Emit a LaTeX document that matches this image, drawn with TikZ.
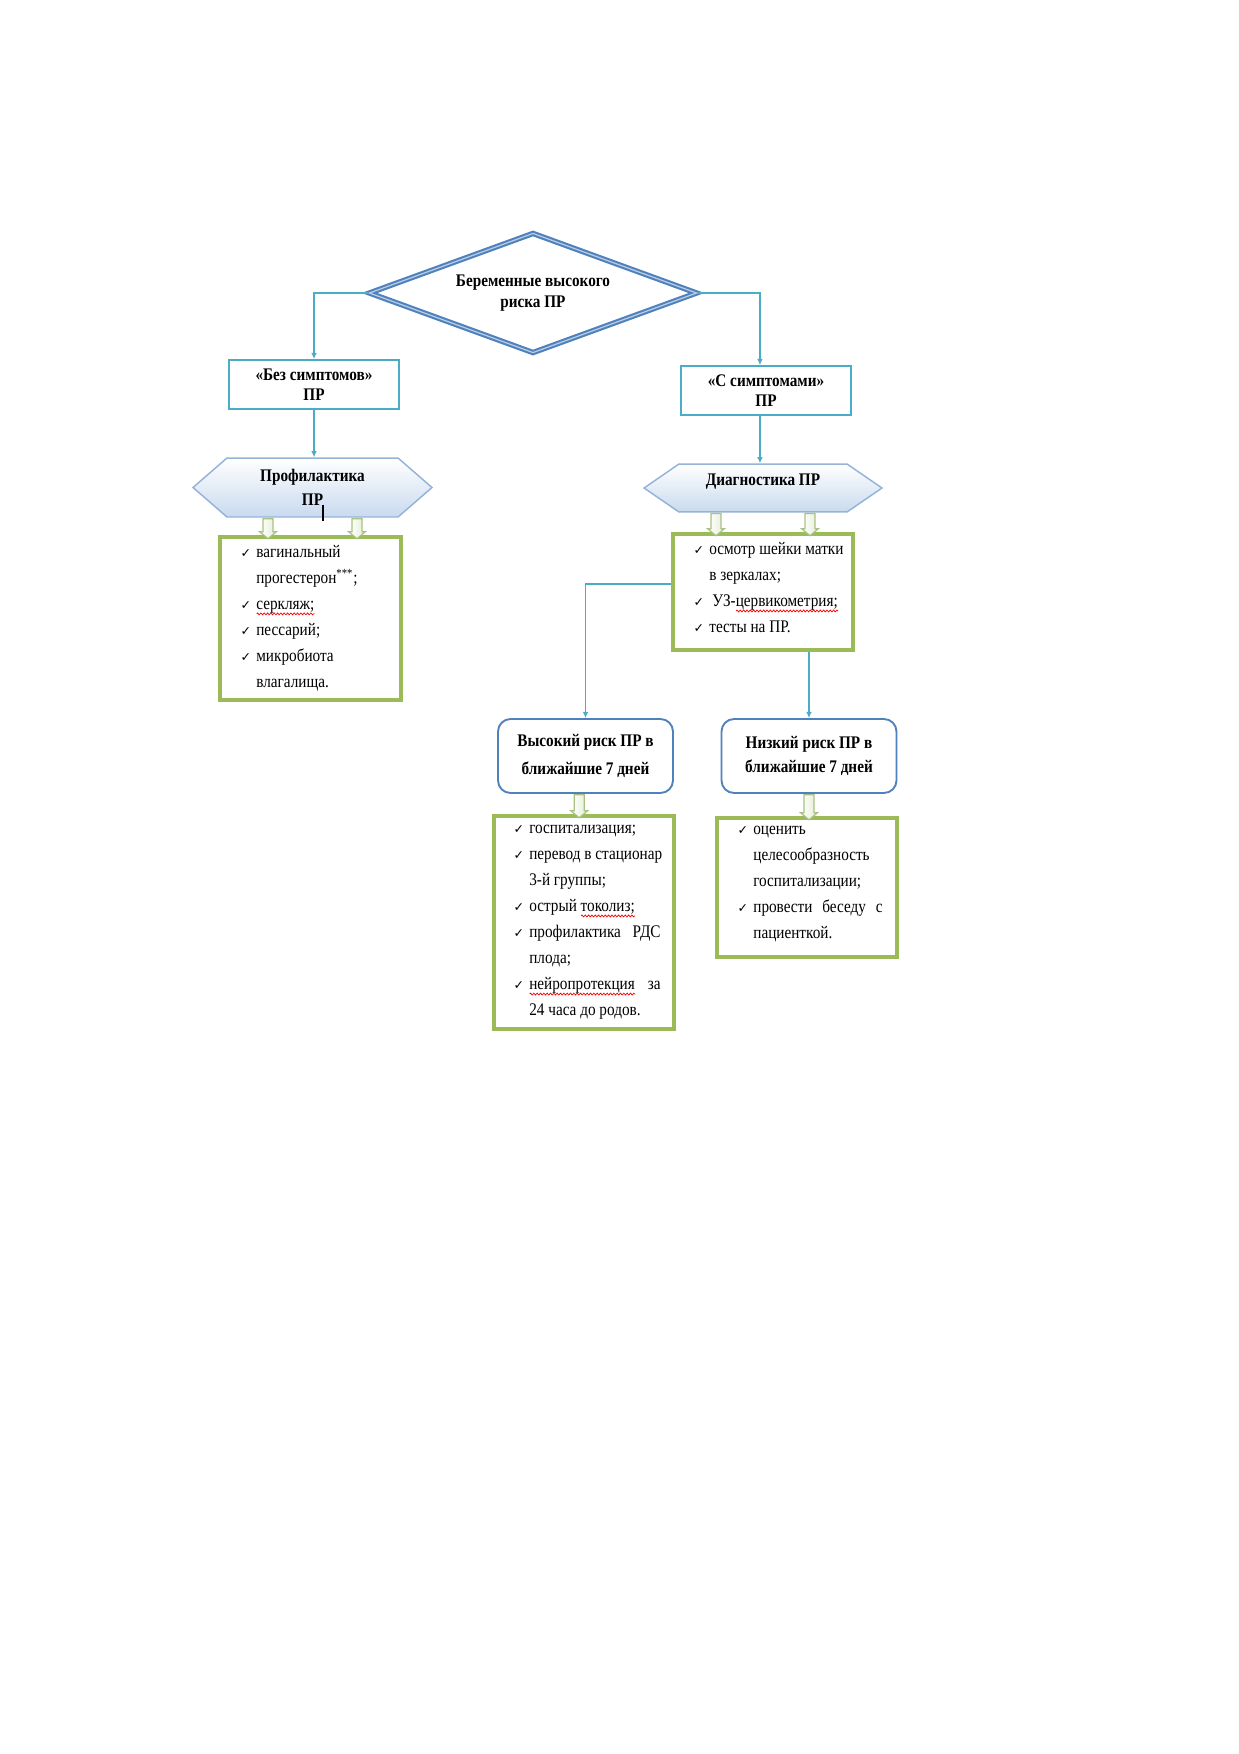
\documentclass[tikz,border=0pt]{standalone}
\usepackage{fontspec}
\setmainfont[FakeStretch=0.86]{Liberation Serif}
\newfontfamily\symf{DejaVu Sans}
\usetikzlibrary{shapes.geometric,shapes.symbols,shapes.arrows,arrows.meta,calc,decorations.pathmorphing}
\definecolor{tealc}{HTML}{4BACC6}
\definecolor{blued}{HTML}{4F81BD}
\definecolor{bluel}{HTML}{B8CCE4}
\definecolor{hexd}{HTML}{95B3D7}
\definecolor{hexf}{HTML}{C9DAEF}
\definecolor{greenc}{HTML}{9BBB59}
\definecolor{arrd}{HTML}{A9C283}
\definecolor{arrf}{HTML}{E6EED6}
\newlength\ckw \setlength\ckw{7.5pt}
\newcommand\ck{\makebox[\ckw][l]{\symf\fontsize{6}{6}\selectfont ✓}}
\newcommand\ind{\hspace*{\ckw}}
\newcommand\jl[2][63pt]{\makebox[#1][s]{#2}}
\newsavebox\sqbox
\newlength\sqlen
\newcommand\sq[1]{\sbox\sqbox{#1}\setlength\sqlen{\wd\sqbox}\rlap{\tikz[baseline=0pt]\draw[red,line width=0.35pt,decorate,decoration={zigzag,segment length=1.6pt,amplitude=0.45pt}] (0pt,-2pt) -- (\sqlen,-2pt);}\usebox\sqbox}
\begin{document}
\begin{tikzpicture}[x=0.48pt,y=-0.48pt,
  conn/.style={draw=tealc, line width=0.6pt, -{Latex[length=3pt,width=2.8pt]}},
  tbox/.style={rectangle, draw=tealc, line width=0.9pt, fill=white, minimum width=81.6pt, minimum height=23.5pt, inner sep=1pt, align=center, font=\bfseries\fontsize{8.5}{9.5}\selectfont},
  diam/.style={diamond, draw=blued, double=bluel, double distance=0.6pt, line width=1pt, aspect=2.73, minimum width=157.4pt, minimum height=57.6pt, inner sep=0pt, align=center, font=\bfseries\fontsize{8.5}{9.8}\selectfont},
  hexs/.style={signal, signal to=west and east, draw=hexd, line width=0.7pt, top color=white, bottom color=hexf, inner sep=0pt, align=center, font=\bfseries\fontsize{8.5}{11.8}\selectfont},
  rbox/.style={rectangle, rounded corners=6pt, draw=blued, line width=0.9pt, fill=white, minimum width=84pt, minimum height=35.5pt, inner sep=1pt, align=center, font=\bfseries\fontsize{8.5}{13.2}\selectfont},
  gbox/.style={rectangle, draw=greenc, line width=1.5pt, fill=white},
  gtext/.style={anchor=west, align=left, inner sep=0pt, font=\fontsize{8.5}{12.5}\selectfont},
  blk/.style={single arrow, shape border rotate=270, draw=arrd, left color=white, right color=arrf, line width=0.6pt, inner sep=2.1pt, minimum width=7.6pt, single arrow head extend=1.6pt, single arrow tip angle=100}
]
\path[use as bounding box, fill=white] (0,0) rectangle (1239,1754);

\node[diam] (d) at (533,293) {Беременные высокого\\риска ПР};
\node[tbox] (bez) at (314,384.5) {«Без симптомов»\\ПР};
\node[tbox] (ss) at (766,390.5) {«С симптомами»\\ПР};
\node[hexs, minimum width=114.7pt, minimum height=28.3pt, signal pointer angle=82] (hl) at (312.5,487.5) {Профилактика\\ПР};
\node[hexs, minimum width=114.2pt, minimum height=23pt, signal pointer angle=69] (hr) at (763,488) {\raisebox{8pt}{Диагностика ПР}};

\node[gbox, minimum width=86.9pt, minimum height=78.2pt] (l1) at (310.5,618.5) {};
\node[gtext] (t1) at ([xshift=10.5pt]l1.west) {\ck вагинальный\\
\ind прогестерон\textsuperscript{***};\\
\ck \sq{серкляж;}\\
\ck пессарий;\\
\ck микробиота\\
\ind влагалища.};

\node[gbox, minimum width=86.4pt, minimum height=55.7pt] (l2) at (763,592) {};
\node[gtext] (t2) at ([xshift=10.5pt,yshift=2pt]l2.west) {\ck осмотр шейки матки\\
\ind в зеркалах;\\
\ck\hspace{1.5pt}УЗ-\sq{цервикометрия;}\\
\ck тесты на ПР.};

\node[rbox] (hi) at (585.5,756) {Высокий риск ПР в\\ближайшие 7 дней};
\node[rbox, font=\bfseries\fontsize{8.5}{11.8}\selectfont] (lo) at (809,756) {Низкий риск ПР в\\ближайшие 7 дней};

\node[gbox, minimum width=86.4pt, minimum height=102.2pt] (l3) at (584,922.5) {};
\node[gtext] (t3) at ([xshift=10pt]l3.west) {\ck госпитализация;\\
\ck перевод в стационар\\
\ind 3-й группы;\\
\ck острый \sq{токолиз;}\\
\ck\jl{профилактика РДС}\\
\ind плода;\\
\ck\jl{\sq{нейропротекция} за}\\
\ind 24 часа до родов.};

\node[gbox, minimum width=86.4pt, minimum height=66.7pt] (l4) at (807,887.5) {};
\node[gtext] (t4) at ([xshift=10.5pt,yshift=1.7pt]l4.west) {\ck оценить\\
\ind целесообразность\\
\ind госпитализации;\\
\ck\jl[62pt]{провести беседу с}\\
\ind пациенткой.};

% connectors
\draw[conn] (d.west) -| (bez.north);
\draw[conn] (d.east) -| ([xshift=-2.9pt]ss.north);
\draw[conn] (bez.south) -- (bez.south |- hl.north);
\draw[conn] ([xshift=-2.9pt]ss.south) -- ([xshift=-2.9pt]ss.south |- hr.north);
\draw[conn] ([yshift=3.8pt]l2.west) -| (hi.north);
\draw[conn] (l2.south -| lo.north) -- (lo.north);

% block arrows
\node[blk, minimum height=9.6pt] (a1) at ($(hl.south)!.5!(l1.north)+(-43.5,0)$) {};
\node[blk, minimum height=9.6pt] (a2) at ($(hl.south)!.5!(l1.north)+(45.5,0)$) {};
\node[blk, minimum height=10.6pt] (a3) at ($(hr.south)!.5!(l2.north)+(-47,0)$) {};
\node[blk, minimum height=10.6pt] (a4) at ($(hr.south)!.5!(l2.north)+(47,0)$) {};
\node[blk, minimum height=11pt] (a5) at ($(hi.south)!.5!(l3.north)+(-5.5,0)$) {};
\node[blk, minimum height=12pt] (a6) at ($(lo.south)!.5!(l4.north)+(1,0)$) {};

% text cursor mark
\draw[line width=0.6pt] (323,505) -- (323,521);
\end{tikzpicture}
\end{document}
